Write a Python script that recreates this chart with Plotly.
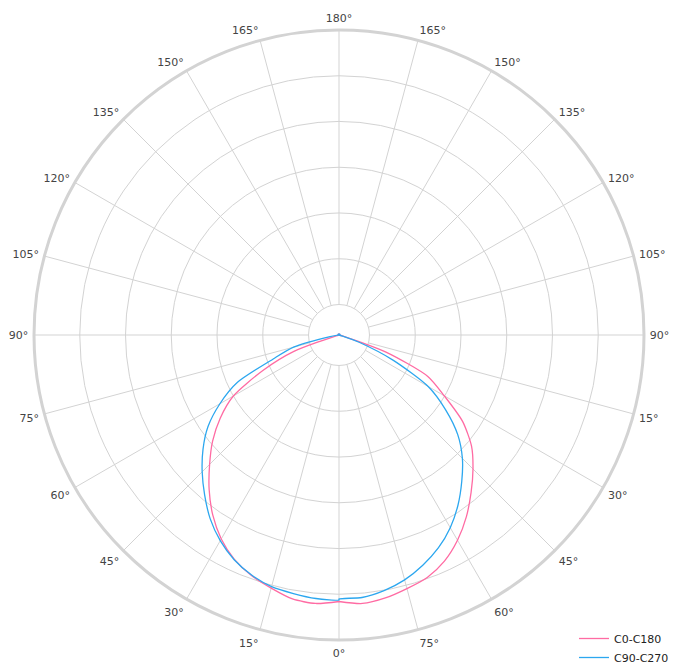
import plotly.graph_objects as go

# ---------------- data ----------------
GAMMA = list(range(0, 181, 5))  # vertical angle, degrees

# C0-C180 plane (pink)
C0 = [266.5, 269.5, 267, 262.5, 258, 249.5, 237, 222, 205.5, 189.5, 173, 151, 121.5, 98, 50, 5, 0, 0, 0] + [1] * 18
C180 = [266.5, 269.5, 268, 262, 256, 247.5, 235.5, 220, 202, 183, 165, 145, 122, 84, 48, 3, 0, 0, 0] + [1] * 18
# C90-C270 plane (blue)
C90 = [264, 263.5, 259.5, 253.5, 245, 235, 222.5, 207.5, 191, 174.5, 155, 130, 103, 60, 22, 3, 0, 0, 0] + [1] * 18
C270 = [265, 264.5, 262.5, 260.5, 255.5, 248, 237.5, 224.5, 209, 193.5, 177.5, 160, 137.5, 112, 70, 47, 9, 1, 0] + [1] * 18

SERIES_NAMES = ["C0-C180", "C90-C270"]
SERIES_COLORS = ["#ff6ba3", "#2ca7ef"]

ANGLE_TICKS = list(range(0, 360, 15))
ANGLE_TICK_TEXT = ["0°", "15°", "30°", "45°", "60°", "75°", "90°", "105°", "120°", "135°",
                   "150°", "165°", "180°", "165°", "150°", "135°", "120°", "105°", "90°",
                   "15°", "30°", "45°", "60°", "75°"]
RADIAL_GRID = [0, 50, 100, 150, 200, 250, 300]


def full_curve(right, left):
    # right half drawn with negative angles, left half with positive angles
    theta = [-g for g in reversed(GAMMA)] + GAMMA
    r = list(reversed(right)) + left
    return theta, r


# the page body adds an 8px margin, so the figure is sized to fill the rest of the window
W, H = 670, 664
DOM_X = [26 / W, 636 / W]
DOM_Y = [32 / H, 642 / H]

fig = go.Figure()
# empty trace so that the grid subplot is rendered
fig.add_trace(go.Scatterpolar(r=[None], theta=[None], mode="lines", subplot="polar",
                              showlegend=False, hoverinfo="skip"))
for name, color, (right, left) in zip(SERIES_NAMES, SERIES_COLORS, [(C0, C180), (C90, C270)]):
    th, rr = full_curve(right, left)
    fig.add_trace(go.Scatterpolar(
        r=rr, theta=th, mode="lines", name=name,
        line=dict(color=color, width=1.3, shape="spline", smoothing=0.7),
        subplot="polar2",
    ))

grid_color = "#d3d3d3"
fig.update_layout(
    width=W, height=H,
    margin=dict(l=0, r=0, t=0, b=0, pad=0),
    paper_bgcolor="white",
    font=dict(family="DejaVu Sans", size=11, color="#444"),
    polar=dict(
        domain=dict(x=DOM_X, y=DOM_Y),
        hole=0.1,
        bgcolor="white",
        radialaxis=dict(range=[0, 300], tickvals=RADIAL_GRID, showticklabels=False,
                        ticks="", showline=False, gridcolor=grid_color, gridwidth=1),
        angularaxis=dict(rotation=270, direction="clockwise", tickmode="array",
                         tickvals=ANGLE_TICKS, ticktext=ANGLE_TICK_TEXT,
                         ticks="outside", ticklen=3, tickcolor="rgba(0,0,0,0)",
                         gridcolor=grid_color, gridwidth=1, showline=True,
                         linecolor=grid_color, linewidth=1,
                         tickfont=dict(size=11, color="#444")),
    ),
    polar2=dict(
        domain=dict(x=DOM_X, y=DOM_Y),
        bgcolor="rgba(0,0,0,0)",
        radialaxis=dict(range=[0, 305], visible=False),
        angularaxis=dict(rotation=270, direction="clockwise", showgrid=False,
                         showticklabels=False, ticks="", showline=True,
                         linecolor=grid_color, linewidth=3),
    ),
    showlegend=True,
    legend=dict(x=566 / W, y=0, xanchor="left", yanchor="bottom",
                bgcolor="rgba(0,0,0,0)", font=dict(size=11, color="#222"),
                tracegroupgap=0),
)

fig.write_html("out.html")
